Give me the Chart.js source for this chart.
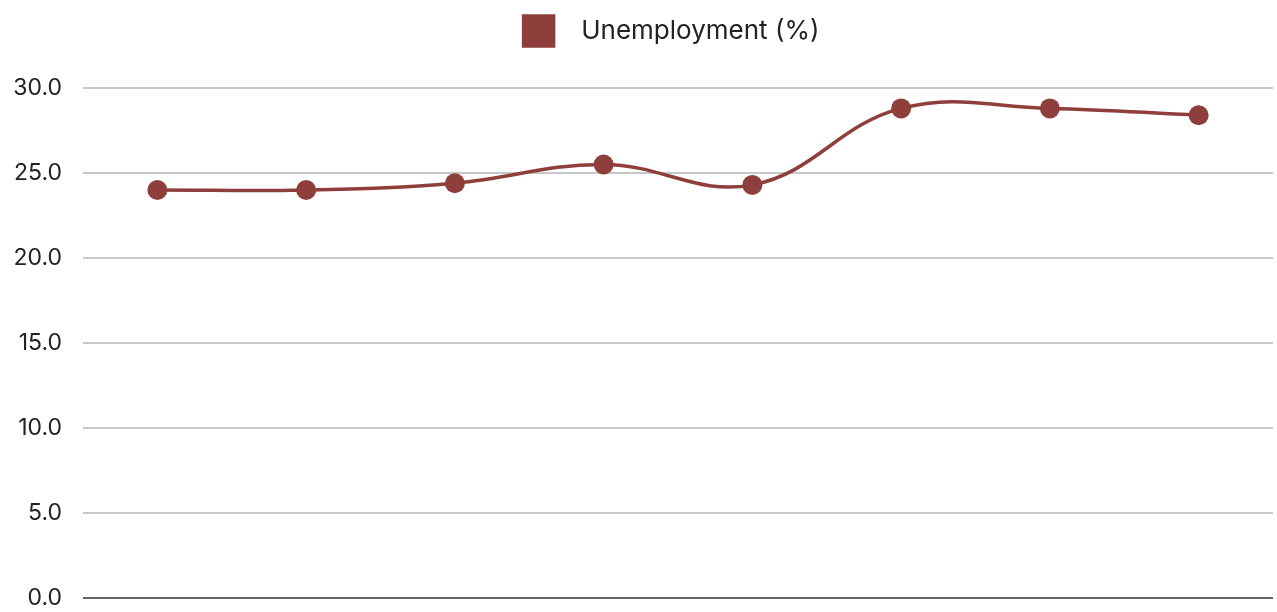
<!DOCTYPE html>
<html><head><meta charset="utf-8">
<script src="https://cdn.jsdelivr.net/npm/chart.js@4/dist/chart.umd.min.js"></script>
<style>html,body{margin:0;padding:0;background:#fff;overflow:hidden}canvas{display:block}</style>
</head><body><canvas id="c" width="1277" height="612"></canvas>
<script>
const categories = ["P1","P2","P3","P4","P5","P6","P7","P8"];
const seriesName = "Unemployment (%)";
const unemployment = [24.0, 24.0, 24.4, 25.5, 24.3, 28.8, 28.8, 28.4];
const yTicks = [0, 5, 10, 15, 20, 25, 30];
const color = "#8E3F3C";
Chart.defaults.font.family = "Inter, 'Open Sans', sans-serif";
const legendTweak = { id: 'legendTweak',
  beforeInit(chart) {
    const fit = chart.legend.fit;
    chart.legend.fit = function () { fit.bind(chart.legend)(); this.height += 32; };
  },
  afterLayout(chart) { chart.legend.left += 35; chart.legend.right += 35; }
};
new Chart(document.getElementById('c'), {
  type: 'line',
  plugins: [legendTweak],
  data: { labels: categories, datasets: [{
    label: seriesName, data: unemployment, borderColor: color, backgroundColor: color,
    borderWidth: 3.5, tension: 0.4, pointRadius: 10, pointHoverRadius: 10, pointBackgroundColor: color, pointBorderWidth: 0
  }]},
  options: {
    responsive: false, animation: false,
    layout: { autoPadding: false, padding: { left: 0, right: 4, top: 0, bottom: 14 } },
    plugins: { legend: { labels: { boxWidth: 30, boxHeight: 30, padding: 16, color: '#222', font: { size: 26 },
      generateLabels: ch => Chart.defaults.plugins.legend.labels.generateLabels(ch).map(l => ({ ...l, text: '  ' + l.text })) } },
      tooltip: { enabled: false } },
    scales: {
      x: { display: false, offset: true },
      y: { min: 0, max: 30, afterBuildTicks: ax => { ax.ticks = yTicks.map(v => ({ value: v })); },
        afterFit: s => { s.width = 83; s.paddingTop = 0; s.paddingBottom = 0; },
        grid: { color: c => c.tick && c.tick.value === 0 ? '#666' : '#c8c8c8', lineWidth: 2, drawTicks: false },
        border: { display: false },
        ticks: { padding: 21, color: '#222', font: { size: 23 }, callback: v => Number(v).toFixed(1) } }
    }
  }
});
</script></body></html>
